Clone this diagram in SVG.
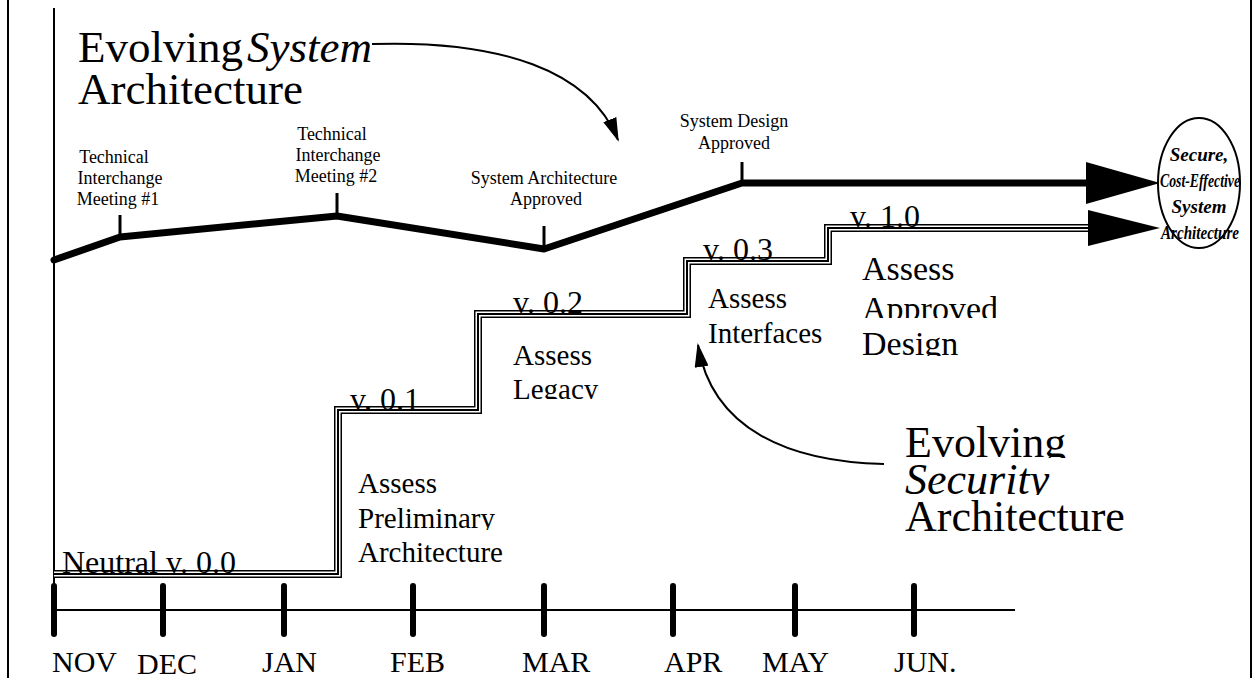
<svg xmlns="http://www.w3.org/2000/svg" width="1256" height="678" viewBox="0 0 1256 678">
<style>
.t{font-family:"Liberation Serif","Times New Roman",serif;fill:#000}
.s18{font-size:18px}
.s29{font-size:29px}
.s32{font-size:32px}
.s34{font-size:34px}
.s44{font-size:44px}
.s45{font-size:45px}
.s30{font-size:30px}
.bi{font-weight:bold;font-style:italic;font-size:19px}
.thin{stroke:#000;stroke-width:2;fill:none}
.thick{stroke:#000;stroke-width:7;fill:none;stroke-linejoin:round;stroke-linecap:round}
.tick{stroke:#000;stroke-width:6;stroke-linecap:round}
</style>
<defs>
<marker id="ah" viewBox="0 0 24 14" refX="22" refY="7" markerWidth="24" markerHeight="14" markerUnits="userSpaceOnUse" orient="auto">
<path d="M0,0 L24,7 L0,14 Z" fill="#000"/>
</marker>
<clipPath id="cPre"><rect x="340" y="500" width="200" height="30"/></clipPath>
<clipPath id="cLeg"><rect x="500" y="370" width="200" height="29"/></clipPath>
<clipPath id="cApp"><rect x="850" y="285" width="200" height="33"/></clipPath>
<clipPath id="cDes"><rect x="850" y="320" width="200" height="36"/></clipPath>
<clipPath id="cEvo"><rect x="890" y="410" width="250" height="48"/></clipPath>
<clipPath id="cSec"><rect x="890" y="460" width="250" height="35"/></clipPath>
</defs>
<g id="frame">
<line class="thin" x1="8" y1="0" x2="8" y2="678"/>
<line class="thin" x1="1251" y1="0" x2="1251" y2="678"/>
<line class="thin" x1="54" y1="8" x2="54" y2="590"/>
</g>
<g id="timeline">
<line class="thin" x1="54" y1="610" x2="1015" y2="610"/>
<line class="tick" x1="54" y1="586" x2="54" y2="634"/>
<line class="tick" x1="163" y1="586" x2="163" y2="634"/>
<line class="tick" x1="284" y1="586" x2="284" y2="634"/>
<line class="tick" x1="413" y1="586" x2="413" y2="634"/>
<line class="tick" x1="544" y1="586" x2="544" y2="634"/>
<line class="tick" x1="673" y1="586" x2="673" y2="634"/>
<line class="tick" x1="795" y1="586" x2="795" y2="634"/>
<line class="tick" x1="914" y1="586" x2="914" y2="634"/>
<text class="t s30" x="52" y="672">NOV</text>
<text class="t s30" x="137" y="674">DEC</text>
<text class="t s30" x="262" y="672">JAN</text>
<text class="t s30" x="390" y="672">FEB</text>
<text class="t s30" x="522" y="672">MAR</text>
<text class="t s30" x="664" y="672">APR</text>
<text class="t s30" x="762" y="672">MAY</text>
<text class="t s30" x="894" y="672">JUN.</text>
</g>
<g id="system-title">
<text class="t s45" x="78" y="62">Evolving<tspan font-style="italic" dx="4">System</tspan></text>
<text class="t s45" x="78" y="104">Architecture</text>
</g>
<g id="milestones" class="t s18" text-anchor="middle">
<text x="114" y="163">Technical</text>
<text x="120" y="184">Interchange</text>
<text x="118" y="205">Meeting #1</text>
<text x="332" y="140">Technical</text>
<text x="338" y="161">Interchange</text>
<text x="336" y="182">Meeting #2</text>
<text x="544" y="184">System Architecture</text>
<text x="546" y="205">Approved</text>
<text x="734" y="127">System Design</text>
<text x="734" y="149">Approved</text>
</g>
<g id="connectors">
<polyline class="thick" points="54,260 120,237 337,216 544,249 742,183 1092,183"/>
<line stroke="#000" stroke-width="3" x1="120" y1="237" x2="120" y2="215"/>
<line stroke="#000" stroke-width="3" x1="337" y1="216" x2="337" y2="193"/>
<line stroke="#000" stroke-width="3" x1="544" y1="249" x2="544" y2="226"/>
<line stroke="#000" stroke-width="3" x1="742" y1="183" x2="742" y2="162"/>
<polygon points="1086,162 1160,183 1086,204" fill="#000"/>
<g fill="none" stroke-linejoin="miter">
<path d="M54,574 H338 V410 H478 V314 H687 V261 H828 V228 H1095" stroke="#000" stroke-width="8"/>
<path d="M54,574 H338 V410 H478 V314 H687 V261 H828 V228 H1095" stroke="#fff" stroke-width="5"/>
<path d="M54,574 H338 V410 H478 V314 H687 V261 H828 V228 H1095" stroke="#000" stroke-width="2"/>
</g>
<polygon points="1088,210 1160,228 1088,246" fill="#000"/>
<path class="thin" d="M372,44 C500,40 590,70 618,140" marker-end="url(#ah)"/>
<path class="thin" d="M884,464 C790,462 712,430 698,345" marker-end="url(#ah)"/>
</g>
<g id="steps" class="t">
<text class="s32" x="62" y="573">Neutral v. 0.0</text>
<text class="s32" x="350" y="410">v. 0.1</text>
<text class="s32" x="513" y="313">v. 0.2</text>
<text class="s32" x="703" y="260">v. 0.3</text>
<text class="s32" x="850" y="227">v. 1.0</text>
<text class="s29" x="358" y="493">Assess</text>
<text class="s29" x="358" y="528" clip-path="url(#cPre)">Preliminary</text>
<text class="s29" x="358" y="562">Architecture</text>
<text class="s29" x="513" y="365">Assess</text>
<text class="s29" x="513" y="399" clip-path="url(#cLeg)">Legacy</text>
<text class="s29" x="708" y="308">Assess</text>
<text class="s29" x="708" y="343">Interfaces</text>
<text class="s34" x="862" y="280">Assess</text>
<text class="s34" x="862" y="320" clip-path="url(#cApp)">Approved</text>
<text class="s34" x="862" y="355" clip-path="url(#cDes)">Design</text>
</g>
<g id="security-title" class="t s44">
<text x="905" y="457" clip-path="url(#cEvo)">Evolving</text>
<text x="905" y="494" font-style="italic" clip-path="url(#cSec)">Security</text>
<text x="905" y="531">Architecture</text>
</g>
<g id="goal">
<ellipse cx="1199" cy="183" rx="41" ry="65" fill="#fff" stroke="#000" stroke-width="2"/>
<g class="t bi" text-anchor="middle">
<text x="1199" y="161">Secure,</text>
<text x="1200" y="187" textLength="80" lengthAdjust="spacingAndGlyphs">Cost-Effective</text>
<text x="1199" y="213">System</text>
<text x="1200" y="239" textLength="78" lengthAdjust="spacingAndGlyphs">Architecture</text>
</g>
</g>
</svg>
